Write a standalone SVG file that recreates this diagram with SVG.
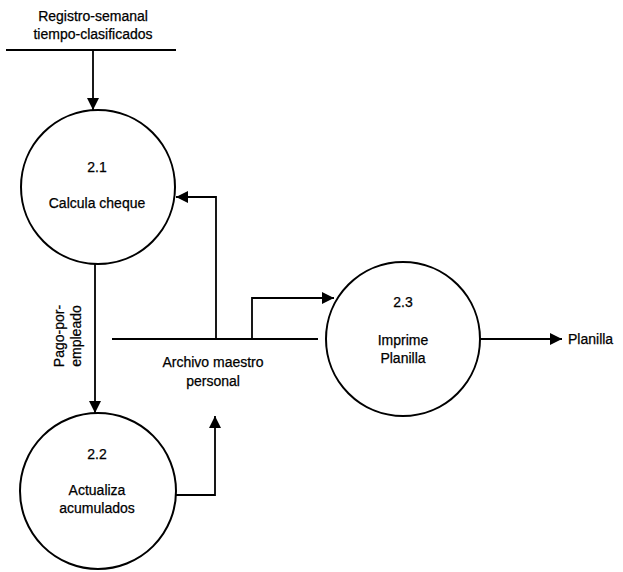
<svg xmlns="http://www.w3.org/2000/svg" width="623" height="572" viewBox="0 0 623 572">
  <style>
    .proc { fill: #ffffff; stroke: #000000; stroke-width: 2; }
    .flow { fill: none; stroke: #000000; stroke-width: 1.8; }
    .store { fill: none; stroke: #000000; stroke-width: 2; }
    text { font-family: "Liberation Sans", Arial, sans-serif; font-size: 14px; fill: #000000; stroke: #000000; stroke-width: 0.25; text-anchor: middle; }
  </style>
  <defs>
    <marker id="arrow" viewBox="0 0 10 10" refX="10" refY="5" markerWidth="12" markerHeight="12" markerUnits="userSpaceOnUse" orient="auto">
      <path d="M0,0 L10,5 L0,10 Z" fill="#000000"/>
    </marker>
  </defs>

  <!-- source data store -->
  <g id="registro">
    <text x="93" y="21">Registro-semanal</text>
    <text x="93" y="39">tiempo-clasificados</text>
    <line class="store" x1="6" y1="50" x2="176" y2="50"/>
  </g>

  <!-- master file data store -->
  <g id="archivo">
    <line class="store" x1="112" y1="339" x2="318" y2="339"/>
    <text x="213" y="367">Archivo maestro</text>
    <text x="213" y="386">personal</text>
  </g>

  <!-- processes -->
  <g id="p21">
    <circle class="proc" cx="98" cy="187" r="77"/>
    <text x="97" y="172">2.1</text>
    <text x="97" y="208">Calcula cheque</text>
  </g>
  <g id="p22">
    <circle class="proc" cx="98" cy="491" r="78"/>
    <text x="97" y="459">2.2</text>
    <text x="97" y="495">Actualiza</text>
    <text x="97" y="513">acumulados</text>
  </g>
  <g id="p23">
    <circle class="proc" cx="403" cy="339" r="77"/>
    <text x="403" y="307">2.3</text>
    <text x="403" y="345">Imprime</text>
    <text x="403" y="363">Planilla</text>
  </g>

  <!-- output label -->
  <g id="planilla">
    <text x="568" y="344" style="text-anchor:start">Planilla</text>
  </g>

  <!-- data flows -->
  <g id="connectors">
    <line class="flow" x1="93" y1="50" x2="93" y2="110" marker-end="url(#arrow)"/>
    <polyline class="flow" points="216,339 216,197 176,197" marker-end="url(#arrow)"/>
    <polyline class="flow" points="252,339 252,298 334,298" marker-end="url(#arrow)"/>
    <line class="flow" x1="95" y1="264" x2="95" y2="413" marker-end="url(#arrow)"/>
    <polyline class="flow" points="176,495 215,495 215,416" marker-end="url(#arrow)"/>
    <line class="flow" x1="480" y1="339" x2="562" y2="339" marker-end="url(#arrow)"/>
    <text transform="translate(64,336) rotate(-90)">Pago-por-</text>
    <text transform="translate(81,336) rotate(-90)">empleado</text>
  </g>
</svg>
